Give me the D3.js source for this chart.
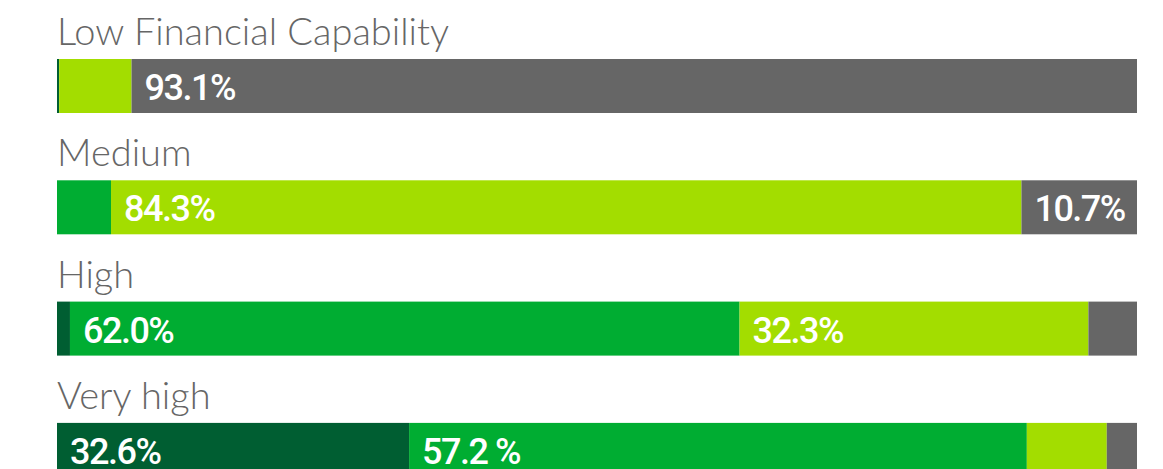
<!DOCTYPE html>
<html>
<head>
<meta charset="utf-8">
<script src="https://cdn.jsdelivr.net/npm/d3@7"></script>
<style>
  body { margin: 0; background: #fff; }
  svg { display: block; }
</style>
</head>
<body>
<div id="chart"></div>
<script>
// categories, top to bottom
const categories = ['Low Financial Capability', 'Medium', 'High', 'Very high'];

// share of each group (percent), one array per stacked segment
const darkGreen = [0.2, 0.0, 1.2, 32.6];
const green = [0.0, 5.0, 62.0, 57.2];
const lightGreen = [6.7, 84.3, 32.3, 7.4];
const grey = [93.1, 10.7, 4.5, 2.8];

// value labels as printed in the bars ('' = no label)
const darkGreenLabels = ['', '', '', '32.6%'];
const greenLabels = ['', '', '62.0%', '57.2 %'];
const lightGreenLabels = ['', '84.3%', '32.3%', ''];
const greyLabels = ['93.1%', '10.7%', '', ''];

const seriesKeys = ['darkGreen', 'green', 'lightGreen', 'grey'];
const seriesColors = ['#005e32', '#00ad32', '#a3dd00', '#666666'];
const seriesLabels = [darkGreenLabels, greenLabels, lightGreenLabels, greyLabels];

const width = 1163;
const height = 469;
const barHeight = 54;

const rows = categories.map((name, i) => ({
  name,
  darkGreen: darkGreen[i],
  green: green[i],
  lightGreen: lightGreen[i],
  grey: grey[i],
}));

const stacked = d3.stack().keys(seriesKeys)(rows);

const x = d3.scaleLinear().domain([0, 100]).range([57, 1137]);
const y = d3.scaleBand().domain(categories).range([59, 59 + 121.3 * categories.length]);
const color = d3.scaleOrdinal().domain(seriesKeys).range(seriesColors);

const svg = d3.select('#chart')
  .append('svg')
  .attr('width', width)
  .attr('height', height);

// category titles above each bar
svg.selectAll('text.cat')
  .data(categories).enter()
  .append('text')
  .attr('class', 'cat')
  .attr('x', 57)
  .attr('y', d => y(d) - 14)
  .style('font-family', 'Lato, sans-serif')
  .style('font-weight', 300)
  .style('font-size', '38px')
  .style('fill', '#666')
  .text(d => d);

const layer = svg.selectAll('g.layer')
  .data(stacked).enter()
  .append('g')
  .attr('class', 'layer')
  .style('fill', d => color(d.key));

layer.selectAll('rect')
  .data(d => d).enter()
  .append('rect')
  .attr('x', d => x(d[0]))
  .attr('width', d => x(d[1]) - x(d[0]))
  .attr('y', d => y(d.data.name))
  .attr('height', barHeight);

// value labels inside segments
stacked.forEach((s, si) => {
  svg.selectAll(null)
    .data(s.filter((d, i) => seriesLabels[si][i] !== ''))
    .enter()
    .append('text')
    .attr('x', d => x(d[0]) + 13)
    .attr('y', d => y(d.data.name) + 41)
    .style('font-family', 'Roboto, sans-serif')
    .style('font-weight', 500)
    .style('font-size', '36px')
    .style('letter-spacing', '-1.5px')
    .style('fill', '#fff')
    .text(d => seriesLabels[si][categories.indexOf(d.data.name)]);
});
</script>
</body>
</html>
